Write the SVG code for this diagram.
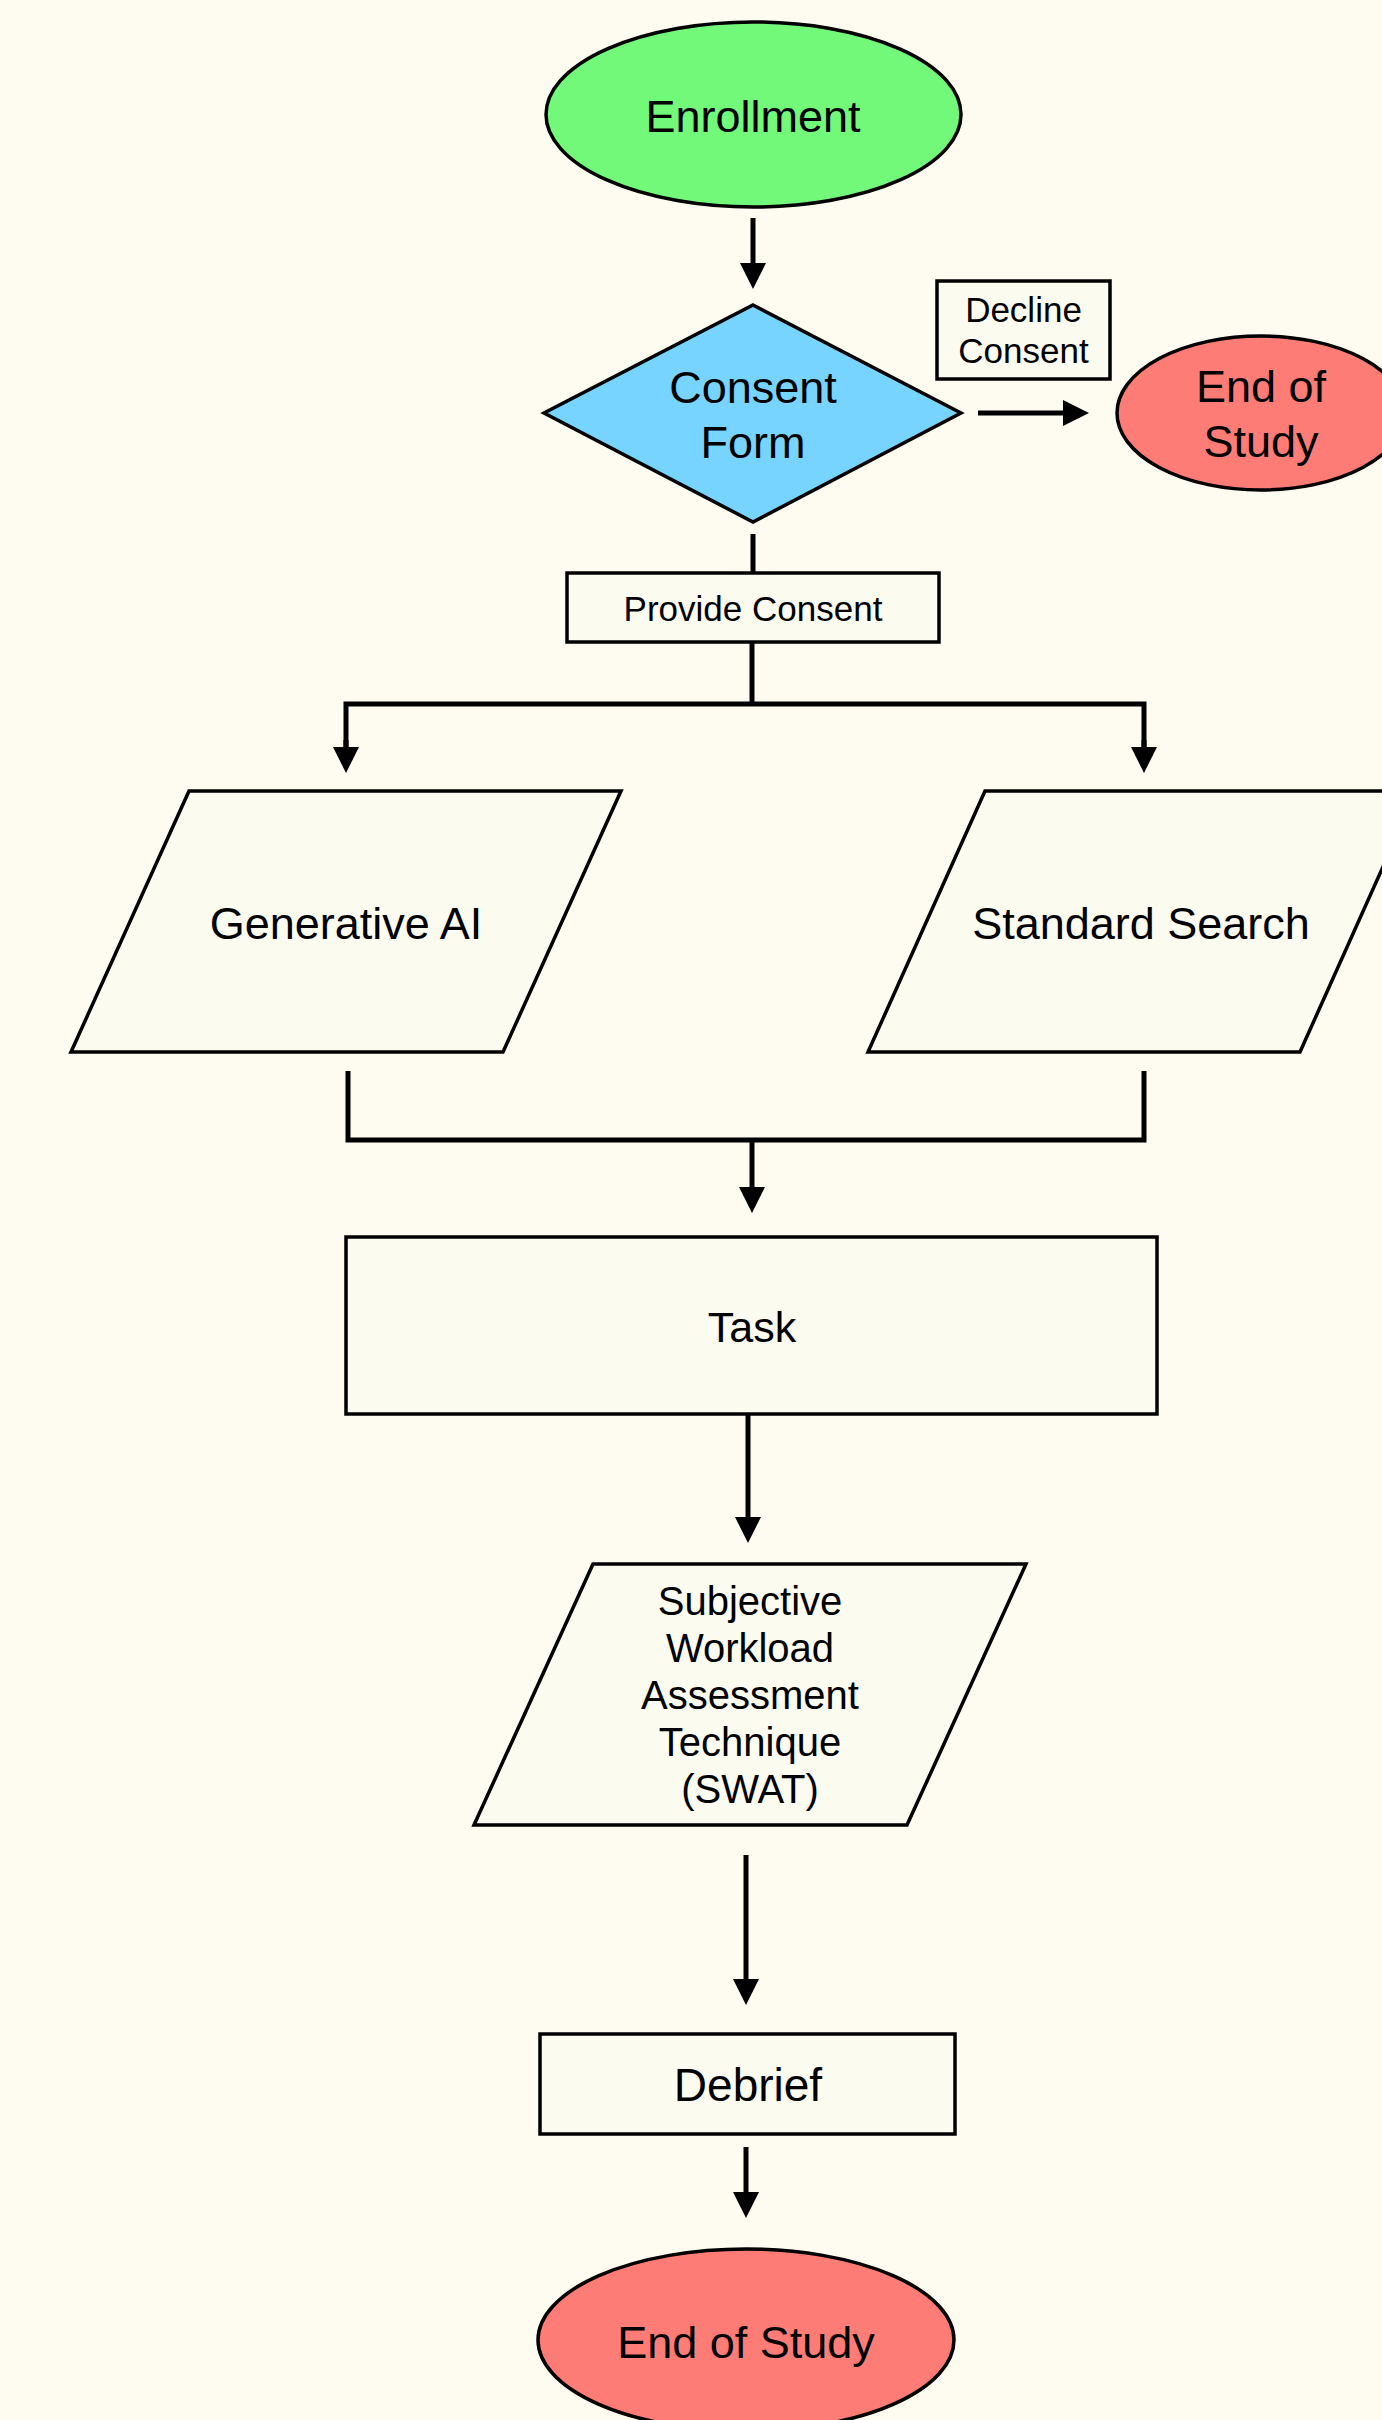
<svg xmlns="http://www.w3.org/2000/svg" width="1382" height="2420" viewBox="0 0 1382 2420">
<defs>
<style>
.shape{stroke:#000;stroke-width:3.5;stroke-linejoin:miter}
.box{fill:#FCFBF0}
.conn{fill:none;stroke:#000;stroke-width:5}
text{font-family:"Liberation Sans",Arial,sans-serif;fill:#000;text-anchor:middle}
.t45{font-size:45px}
.t35{font-size:35px}
.t40{font-size:40px}
</style>
<marker id="ah" markerUnits="userSpaceOnUse" markerWidth="26" markerHeight="26" viewBox="0 0 26 26" refX="2" refY="13" orient="auto">
<path d="M0,0 L26,13 L0,26 Z" fill="#000"/>
</marker>
</defs>
<rect x="0" y="0" width="1382" height="2420" fill="#FEFBF0"/>

<g id="connectors">
<line class="conn" x1="753" y1="218" x2="753" y2="265" marker-end="url(#ah)"/>
<line class="conn" x1="978" y1="413" x2="1065" y2="413" marker-end="url(#ah)"/>
<line class="conn" x1="753" y1="534" x2="753" y2="573"/>
<line class="conn" x1="752" y1="642" x2="752" y2="704"/>
<polyline class="conn" points="346,749 346,704 1144,704 1144,749"/>
<line class="conn" x1="346" y1="740" x2="346" y2="749" marker-end="url(#ah)"/>
<line class="conn" x1="1144" y1="740" x2="1144" y2="749" marker-end="url(#ah)"/>
<polyline class="conn" points="348,1071 348,1140 1144,1140 1144,1071"/>
<line class="conn" x1="752" y1="1140" x2="752" y2="1189" marker-end="url(#ah)"/>
<line class="conn" x1="748" y1="1414" x2="748" y2="1519" marker-end="url(#ah)"/>
<line class="conn" x1="746" y1="1855" x2="746" y2="1981" marker-end="url(#ah)"/>
<line class="conn" x1="746" y1="2147" x2="746" y2="2194" marker-end="url(#ah)"/>
</g>

<g id="enrollment">
<ellipse class="shape" cx="753.5" cy="114.5" rx="207.5" ry="92.5" fill="#72F97A"/>
<text class="t45" x="753" y="132">Enrollment</text>
</g>

<g id="consent-form">
<polygon class="shape" points="753,305 961,413 753,522 544,413" fill="#77D4FE"/>
<text class="t45" x="753" y="403">Consent</text>
<text class="t45" x="753" y="458">Form</text>
</g>

<g id="decline-consent">
<rect class="shape box" x="937" y="281" width="173" height="98"/>
<text class="t35" x="1023.5" y="322">Decline</text>
<text class="t35" x="1023.5" y="363">Consent</text>
</g>

<g id="end-of-study-top">
<ellipse class="shape" cx="1261" cy="413" rx="144" ry="77" fill="#FE7C76"/>
<text class="t45" x="1261" y="402">End of</text>
<text class="t45" x="1261" y="457">Study</text>
</g>

<g id="provide-consent">
<rect class="shape box" x="567" y="573" width="372" height="69"/>
<text class="t35" x="753" y="621">Provide Consent</text>
</g>

<g id="generative-ai">
<polygon class="shape box" points="189,791 621,791 503,1052 71,1052"/>
<text class="t45" x="346" y="939">Generative AI</text>
</g>

<g id="standard-search">
<polygon class="shape box" points="985,791 1417,791 1300,1052 868,1052"/>
<text class="t45" x="1141" y="939">Standard Search</text>
</g>

<g id="task">
<rect class="shape box" x="346" y="1237" width="811" height="177"/>
<text x="752" y="1342" style="font-size:43px">Task</text>
</g>

<g id="swat">
<polygon class="shape box" points="593,1564 1026,1564 907,1825 474,1825"/>
<text class="t40" x="750" y="1615">Subjective</text>
<text class="t40" x="750" y="1662">Workload</text>
<text class="t40" x="750" y="1709">Assessment</text>
<text class="t40" x="750" y="1756">Technique</text>
<text class="t40" x="750" y="1803">(SWAT)</text>
</g>

<g id="debrief">
<rect class="shape box" x="540" y="2034" width="415" height="100"/>
<text x="748" y="2101" style="font-size:46px">Debrief</text>
</g>

<g id="end-of-study-bottom">
<ellipse class="shape" cx="746" cy="2340" rx="208" ry="91" fill="#FE7C76"/>
<text class="t45" x="746" y="2358">End of Study</text>
</g>
</svg>
